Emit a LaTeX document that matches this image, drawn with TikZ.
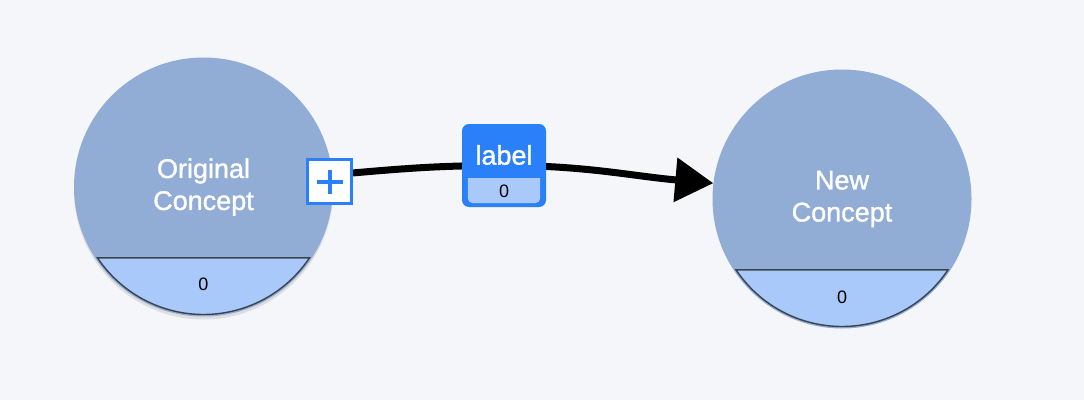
\documentclass[tikz,border=0pt]{standalone}
\usepackage{fontspec}
\setmainfont{Liberation Sans}
\newfontfamily\whitefont{Liberation Sans}[FakeBold=1.3]
\usepackage{xcolor}
\usetikzlibrary{arrows.meta,calc,positioning,shadows}

\definecolor{bgc}{HTML}{F5F6FA}
\definecolor{conceptc}{HTML}{91ACD5}
\definecolor{segc}{HTML}{A8C9F9}
\definecolor{chordc}{HTML}{3A4350}
\definecolor{bluec}{HTML}{2A80F9}

\pgfdeclarelayer{bglayer}
\pgfdeclarelayer{edges}
\pgfsetlayers{bglayer,edges,main}

\begin{document}
\begin{tikzpicture}[x=1pt,y=1pt,
  concept/.style={circle,fill=conceptc,minimum size=259pt,inner sep=0pt,align=center,
    text=white,font=\whitefont\fontsize{27}{32}\selectfont},
  cnt/.style={inner sep=0pt,font=\fontsize{18}{20}\selectfont},
  seg/.style={fill=segc,draw=chordc,line width=1.4pt},
  addbox/.style={draw=bluec,line width=3pt,fill=white,minimum size=44pt,inner sep=0pt},
  plussign/.style={draw=bluec,line width=4pt},
  lblbox/.style={fill=bluec,rounded corners=7pt,minimum width=84pt,minimum height=83pt,inner sep=0pt},
  lbltxt/.style={inner sep=0pt,text=white,font=\whitefont\fontsize{27}{30}\selectfont},
  link/.style={line width=7pt,-{Triangle[length=38pt,width=43pt]}}]
\begin{pgfonlayer}{bglayer}
\fill[bgc] (0,0) rectangle (1084,400);
\end{pgfonlayer}
\useasboundingbox (0,0) rectangle (1084,400);
% concepts
\node[concept,drop shadow={shadow xshift=0pt,shadow yshift=-3pt,opacity=.2}] (orig) at (203.5,213) {Original\\Concept};
\node[concept] (new) at (842,201) {New\\Concept};
\foreach \c in {orig,new}
  \filldraw[seg] ($(\c.center)+(213.8:127.5)$) arc[start angle=213.8,end angle=326.2,radius=127.5] -- cycle;
\node[cnt] (origc) at ($(orig.center)+(0,-97)$) {0};
\node[cnt] (newc) at ($(new.center)+(0,-98)$) {0};
% add button
\node[addbox] (add) at (329.5,218.5) {};
\draw[plussign] ($(add.center)+(-13,0)$) -- ($(add.center)+(13,0)$);
\draw[plussign] ($(add.center)+(0,-12)$) -- ($(add.center)+(0,12)$);
% link label
\node[lblbox] (lbl) at (504,234.5) {};
\fill[segc] ($(lbl.south west)+(6,29)$) -- ($(lbl.south east)+(-6,29)$) [rounded corners=5pt]
  -- ($(lbl.south east)+(-6,4)$) -- ($(lbl.south west)+(6,4)$) [sharp corners] -- cycle;
\node[lbltxt] (lbltext) at ($(lbl.center)+(0,10.5)$) {label};
\node[cnt] (lblc) at ($(lbl.south)+(0,16)$) {0};
\begin{pgfonlayer}{edges}
\draw[link] (add.20) to[out=5,in=180] (lbl.center) to[out=0,in=175] (new.173);
\end{pgfonlayer}
\end{tikzpicture}
\end{document}
